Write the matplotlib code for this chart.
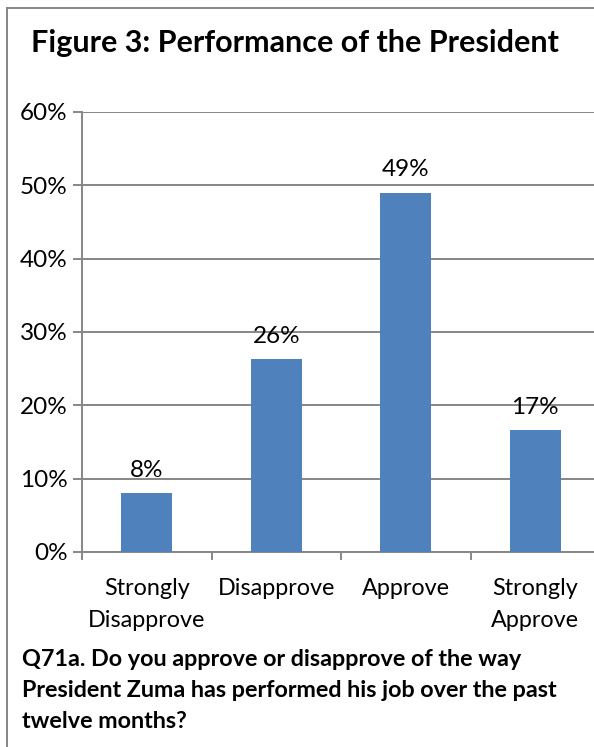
import matplotlib

matplotlib.use("Agg")
import matplotlib.pyplot as plt
from matplotlib.lines import Line2D

categories = ["Strongly\nDisapprove", "Disapprove", "Approve", "Strongly\nApprove"]
shares = [8.0, 26.3, 49.0, 16.6]
y_ticks = [0, 10, 20, 30, 40, 50, 60]

title = "Figure 3: Performance of the President"
question = ("Q71a. Do you approve or disapprove of the way\n"
            "President Zuma has performed his job over the past\n"
            "twelve months?")

BAR = "#4F81BD"
GRID = "#868686"
W, H = 594, 747

plt.rcParams["font.family"] = ["Lato", "DejaVu Sans"]

fig = plt.figure(figsize=(W / 100, H / 100), dpi=100)
ax = fig.add_axes([82 / W, 195 / H, 518 / W, 440 / H])

x = list(range(len(categories)))
bars = ax.bar(x, shares, width=0.39, color=BAR, zorder=3)
ax.bar_label(bars, fmt="{:.0f}%", padding=9, fontsize=17.5)

ax.set_xlim(-0.5, 3.5)
ax.set_ylim(0, 60)
ax.set_yticks(y_ticks)
ax.set_yticklabels([f"{t}%" for t in y_ticks], fontsize=17.5)
ax.yaxis.grid(True, color=GRID, linewidth=1.4, zorder=0)
ax.tick_params(axis="y", length=6.5, width=1.4, color=GRID, pad=4)

ax.set_xticks(x)
ax.set_xticklabels(categories, fontsize=16.8, linespacing=1.6)
ax.tick_params(axis="x", which="major", length=0, pad=19)
ax.set_xticks([-0.5, 0.5, 1.5, 2.5, 3.5], minor=True)
ax.tick_params(axis="x", which="minor", length=5.5, width=1.4, color=GRID)

for side in ("top", "right"):
    ax.spines[side].set_visible(False)
for side in ("left", "bottom"):
    ax.spines[side].set_color(GRID)
    ax.spines[side].set_linewidth(1.4)

fig.text(295 / W, 1 - 43 / H, title, fontsize=22, fontweight="bold",
         ha="center", va="center")
fig.text(22 / W, 1 - 649 / H, question, fontsize=16.8, fontweight="bold",
         ha="left", va="top", linespacing=1.6)

# outer chart frame (cropped on the right and bottom)
fig.add_artist(Line2D([7 / W, 7 / W], [0, 1 - 8 / H], color=GRID, lw=1.4))
fig.add_artist(Line2D([7 / W, 1], [1 - 8 / H, 1 - 8 / H], color=GRID, lw=1.4))

fig.savefig("out.png", dpi=100)
